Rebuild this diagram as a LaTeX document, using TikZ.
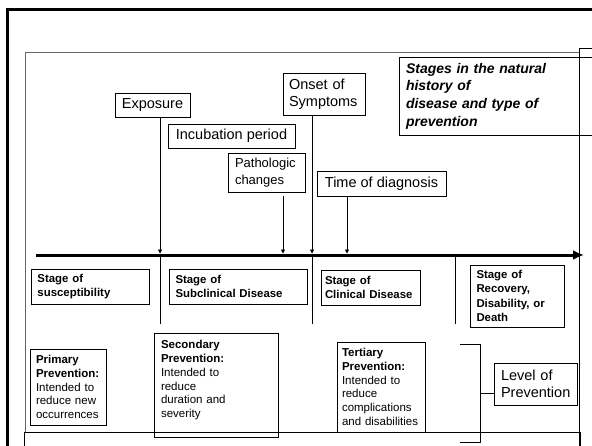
\documentclass[tikz,border=0pt]{standalone}
\usepackage{fontspec}
\setmainfont{Liberation Sans}
\usetikzlibrary{arrows.meta}
\newcommand*{\LargeLabel}{\fontsize{14.5}{17}\selectfont}
\newcommand*{\MidLabel}{\fontsize{13}{17}\selectfont}
\newcommand*{\StageLabel}{\fontsize{11.4}{14.3}\selectfont\bfseries}
\newcommand*{\PrevLabel}{\fontsize{11.5}{13.7}\selectfont}
\hyphenpenalty=10000

\begin{document}
\begin{tikzpicture}
	[x=1pt, y=-1pt,
	 box/.style={draw, line width=0.8pt, inner ysep=0pt, inner xsep=6.5pt, align=left},
	 event/.style={box, font=\LargeLabel, align=center, inner xsep=0pt},
	 stage/.style={box, font=\StageLabel},
	 prev/.style={box, font=\PrevLabel},
	 frameline/.style={draw=black!60, line width=0.8pt},
	 tick/.style={line width=0.7pt, -{Triangle[length=4pt,width=4pt]}}];
	\clip (0,0) rectangle (592,445);

	%Frame
	\draw[line width=3pt] (7,9) rectangle (620,460);
	\draw[frameline] (25,52) rectangle (579,432);
	\draw[line width=0.8pt] (579,48) rectangle (620,460);
	\draw[line width=0.8pt] (24,432) rectangle (580,460);

	%Title
	\node[box, text width=207, minimum height=78, font=\fontsize{14}{17.6}\selectfont\bfseries\itshape]
		(title) at (509.5,96) {Stages in the natural\\ history of\\ disease and type of\\ prevention};

	%Timeline
	\coordinate (start) at (36,255);
	\coordinate (end) at (584,255);
	\draw[line width=3pt, -{Latex[length=11pt,width=10pt]}] (start) -- (end);

	%Events
	\node[event, minimum width=75, minimum height=24] (exposure) at (152.5,105) {Exposure};
	\node[event, minimum width=127, minimum height=24] (incubation) at (231.5,136) {Incubation period};
	\node[box, font=\MidLabel, text width=64, minimum height=39] (patho) at (267,172.5) {Pathologic\\ changes};
	\node[box, font=\LargeLabel, text width=70, inner xsep=6pt, minimum height=42] (onset) at (324,94) {Onset of\\ Symptoms};
	\node[event, minimum width=129, minimum height=25] (diagnosis) at (381.5,183.5) {Time of diagnosis};

	\coordinate (hitExposure) at (160,253.5);
	\coordinate (endExposure) at (160,324);
	\coordinate (hitPatho) at (283,253.5);
	\coordinate (hitOnset) at (312,253.5);
	\coordinate (endOnset) at (312,324);
	\coordinate (hitDiagnosis) at (347,253.5);
	\coordinate (topRecovery) at (455,257);
	\coordinate (endRecovery) at (455,324);

	\draw[tick] (exposure.south -| hitExposure) -- (hitExposure);
	\draw[line width=0.7pt] (hitExposure) -- (endExposure);
	\draw[tick, shorten <=4pt] (patho.south -| hitPatho) -- (hitPatho);
	\draw[tick] (onset.south -| hitOnset) -- (hitOnset);
	\draw[line width=0.7pt] (hitOnset) -- (endOnset);
	\draw[tick] (diagnosis.south -| hitDiagnosis) -- (hitDiagnosis);
	\draw[line width=0.7pt] (topRecovery) -- (endRecovery);

	%Stages
	\node[stage, text width=105, minimum height=35] (susceptibility) at (90,286.5) {Stage of\\ susceptibility};
	\node[stage, text width=125, minimum height=35] (subclinical) at (238,286.5) {Stage of\\ Subclinical Disease};
	\node[stage, text width=91, inner xsep=4pt, minimum height=35] (clinical) at (370.5,287.5) {Stage of\\ Clinical Disease};
	\node[stage, text width=81, minimum height=62] (recovery) at (517,296) {Stage of\\ Recovery,\\ Disability, or\\ Death};

	%Prevention
	\node[prev, text width=64, inner xsep=6pt, minimum height=76] (primary) at (68,387)
		{\textbf{Primary}\\ \textbf{Prevention:}\\ Intended to\\ reduce new\\ occurrences};
	\node[prev, text width=110, inner xsep=7pt, minimum height=104] (secondary) at (216,385)
		{\textbf{Secondary}\\ \textbf{Prevention:}\\ Intended to\\ reduce\\ duration and\\ severity\rule[-12pt]{0pt}{12pt}};
	\node[prev, text width=78, inner xsep=5pt, minimum height=90] (tertiary) at (381,387)
		{\textbf{Tertiary}\\ \textbf{Prevention:}\\ Intended to\\ reduce\\ complications\\ and disabilities};
	\node[box, font=\LargeLabel, text width=69, inner xsep=7pt, minimum height=42] (level) at (535.5,384) {Level of\\ Prevention};

	\coordinate (bTop) at (460,344);
	\coordinate (bBot) at (460,442);
	\coordinate (bMid) at (480,393);
	\draw[line width=0.8pt] (bTop) -- (bTop -| bMid) -- (bBot -| bMid) -- (bBot);
	\draw[line width=0.8pt] (bMid) -- (bMid -| level.west);
\end{tikzpicture}
\end{document}
